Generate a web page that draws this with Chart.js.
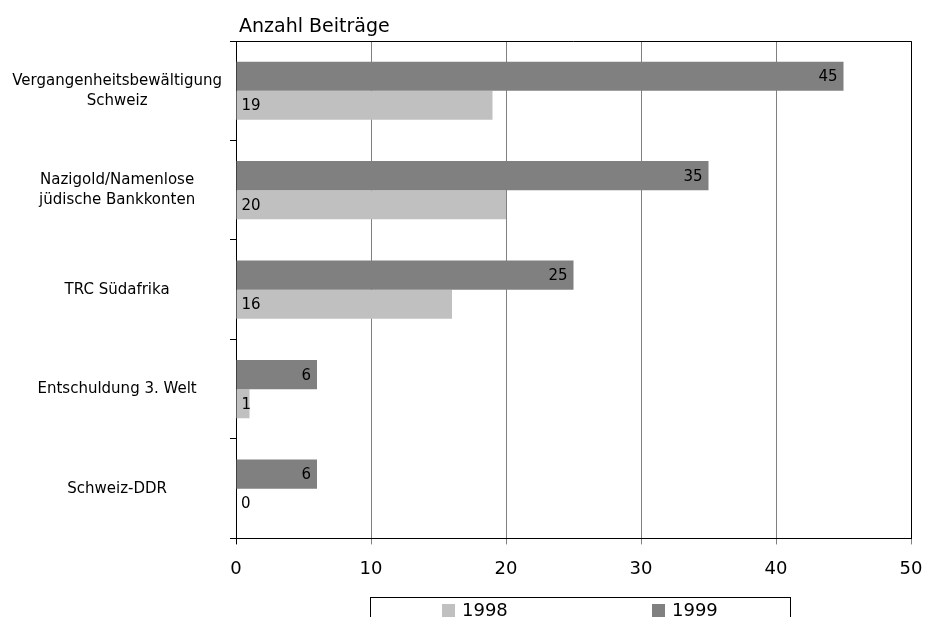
<!DOCTYPE html>
<html>
<head>
<meta charset="utf-8">
<script src="https://cdn.jsdelivr.net/npm/chart.js@4/dist/chart.umd.min.js"></script>
<style>
  html, body { margin: 0; padding: 0; background: #fff; }
  #wrap { width: 925px; height: 617px; }
</style>
</head>
<body>
<div id="wrap"><canvas id="chart"></canvas></div>
<script>
// ---------------------------------------- | Data

const categories = [
  ["Vergangenheitsbewältigung", "Schweiz"],
  ["Nazigold/Namenlose", "jüdische Bankkonten"],
  "TRC Südafrika",
  "Entschuldung 3. Welt",
  "Schweiz-DDR"
]
const values1999 = [45, 35, 25, 6, 6]
const values1998 = [19, 20, 16, 1, 0]
const xTicks = [0, 10, 20, 30, 40, 50]
const legendOrder = ["1998", "1999"]

const FONT = "'DejaVu Sans', Verdana, sans-serif"

// ---------------------------------------- | Plugins

// frame, title, bar values and boxed legend
const extras = {
  id: "extras",
  afterDatasetsDraw(chart) {
    const { ctx } = chart
    ctx.save()
    ctx.font = "15px " + FONT
    ctx.fillStyle = "#000"
    ctx.textBaseline = "middle"
    chart.data.datasets.forEach((ds, i) => {
      chart.getDatasetMeta(i).data.forEach((bar, j) => {
        if (ds.label === "1999") {
          ctx.textAlign = "right"
          ctx.fillText(ds.data[j], bar.x - 6, bar.y + 1)
        } else {
          ctx.textAlign = "left"
          ctx.fillText(ds.data[j], bar.base + 5, bar.y + 1)
        }
      })
    })
    ctx.restore()
  },
  afterDraw(chart) {
    const { ctx, chartArea: a } = chart
    ctx.save()
    ctx.strokeStyle = "#000"
    ctx.lineWidth = 1
    ctx.beginPath()
    ctx.moveTo(a.left, a.top + 0.5)
    ctx.lineTo(a.right + 0.5, a.top + 0.5)
    ctx.lineTo(a.right + 0.5, a.bottom)
    ctx.stroke()

    ctx.fillStyle = "#000"
    ctx.font = "19px " + FONT
    ctx.textAlign = "left"
    ctx.textBaseline = "alphabetic"
    ctx.fillText("Anzahl Beiträge", a.left + 3, a.top - 9)

    // legend box
    ctx.strokeRect(370.5, 597.5, 420, 40)
    ctx.font = "18px " + FONT
    ctx.textBaseline = "middle"
    const xs = [442, 652]
    legendOrder.forEach((lab, k) => {
      const ds = chart.data.datasets.find(d => d.label === lab)
      ctx.fillStyle = ds.backgroundColor
      ctx.fillRect(xs[k], 604, 13, 13)
      ctx.fillStyle = "#000"
      ctx.fillText(lab, xs[k] + 20, 611)
    })
    ctx.restore()
  }
}

// ---------------------------------------- | Chart

const ctx = document.getElementById("chart").getContext("2d")

const chart = new Chart(ctx, {
  type: "bar",
  data: {
    labels: categories,
    datasets: [
      { label: "1999", data: values1999, backgroundColor: "#808080" },
      { label: "1998", data: values1998, backgroundColor: "#c0c0c0" }
    ]
  },
  options: {
    indexAxis: "y",
    responsive: true,
    maintainAspectRatio: false,
    animation: false,
    categoryPercentage: 0.585,
    barPercentage: 1,
    layout: { padding: { top: 41, right: 14, bottom: 23, left: 0 } },
    plugins: {
      legend: { display: false },
      tooltip: { enabled: false }
    },
    scales: {
      x: {
        min: xTicks[0],
        max: xTicks[xTicks.length - 1],
        afterBuildTicks: scale => { scale.ticks = xTicks.map(v => ({ value: v })) },
        afterFit: scale => { scale.paddingRight = 0; scale.paddingLeft = 0 },
        grid: {
          color: "#808080",
          tickColor: c => (c.tick && c.tick.value === 0 ? "#000" : "#808080"),
          tickLength: 6
        },
        border: { color: "#000" },
        ticks: { color: "#000", padding: 14, font: { family: FONT, size: 18 } }
      },
      y: {
        afterFit: scale => { scale.width = 236 },
        grid: { drawOnChartArea: false, color: "#000", tickLength: 6 },
        border: { color: "#000" },
        ticks: {
          color: "#000",
          crossAlign: "center",
          padding: 8,
          font: { family: FONT, size: 15, lineHeight: 1.33 }
        }
      }
    }
  },
  plugins: [extras]
})
</script>
</body>
</html>
